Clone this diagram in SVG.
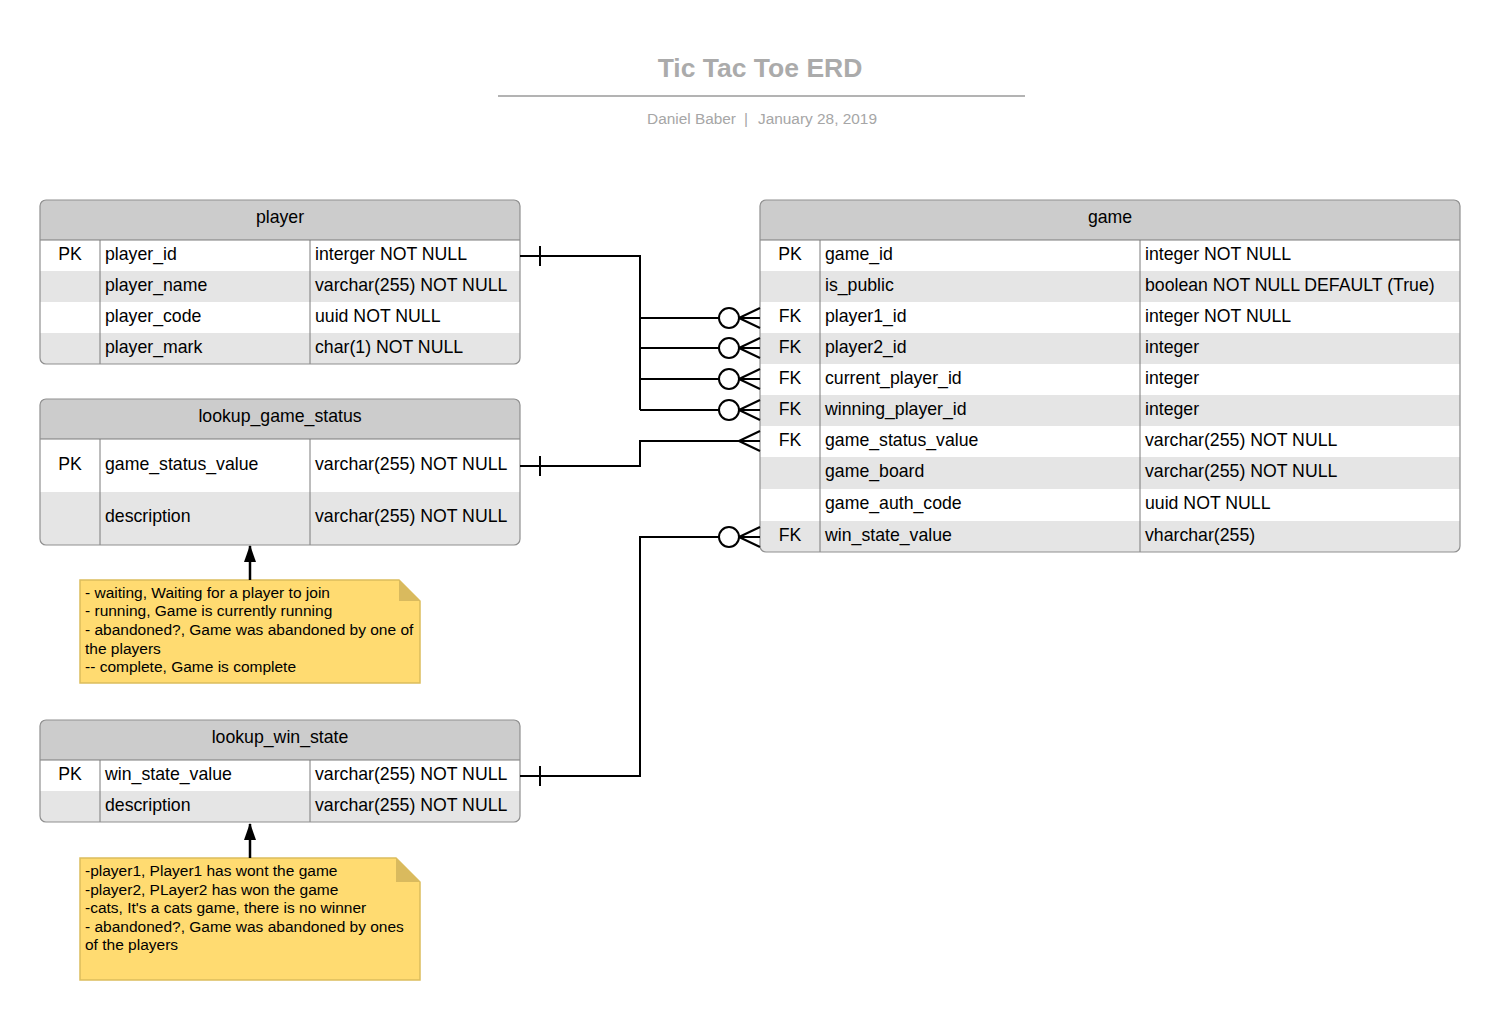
<svg xmlns="http://www.w3.org/2000/svg" width="1500" height="1021" viewBox="0 0 1500 1021">
<style>
text{font-family:"Liberation Sans",Arial,sans-serif;fill:#000}
.title{font-size:26.5px;font-weight:bold;fill:#ababab}
.sub{font-size:15.4px;fill:#a6a6a6}
.hdr{fill:#cccccc}
.alt{fill:#e5e5e5}
.wht{fill:#ffffff}
.frame{fill:none;stroke:#8f8f8f;stroke-width:1.2}
.div{stroke:#7a7a7a;stroke-width:1;fill:none}
.t{font-size:17.7px}
.th{font-size:17.7px;text-anchor:middle}
.pk{font-size:17.7px;text-anchor:middle}
.note{fill:#ffdb71;stroke:#dcbd5c;stroke-width:1.5}
.fold{fill:#d9ba5e;stroke:none}
.nt{font-size:15.5px}
.conn{fill:none;stroke:#000;stroke-width:2}
.ring{fill:#fff;stroke:#000;stroke-width:2}
.arr{stroke:#000;stroke-width:2.5;fill:none}
</style>
<defs>
<marker id="arrowhead" viewBox="0 0 17 12" refX="16" refY="6" markerWidth="17" markerHeight="12" orient="auto" markerUnits="userSpaceOnUse">
<path d="M0,0 L17,6 L0,12 Z" fill="#000"/>
</marker>
<clipPath id="cpPlayer"><rect x="40" y="200" width="480" height="164" rx="6"/></clipPath>
<clipPath id="cpStatus"><rect x="40" y="399" width="480" height="146" rx="6"/></clipPath>
<clipPath id="cpWin"><rect x="40" y="720" width="480" height="102" rx="6"/></clipPath>
<clipPath id="cpGame"><rect x="760" y="200" width="700" height="352" rx="6"/></clipPath>
</defs>
<rect width="1500" height="1021" fill="#ffffff"/>

<g id="title">
<text class="title" x="760" y="77" text-anchor="middle">Tic Tac Toe ERD</text>
<line x1="498" y1="96" x2="1025" y2="96" stroke="#b3b3b3" stroke-width="2"/>
<text class="sub" x="736" y="124" text-anchor="end">Daniel Baber</text>
<text class="sub" x="746" y="124" text-anchor="middle">|</text>
<text class="sub" x="758" y="124">January 28, 2019</text>
</g>

<g id="player">
<g clip-path="url(#cpPlayer)">
<rect class="hdr" x="40" y="200" width="480" height="40"/>
<rect class="wht" x="40" y="240" width="480" height="31"/>
<rect class="alt" x="40" y="271" width="480" height="31"/>
<rect class="wht" x="40" y="302" width="480" height="31"/>
<rect class="alt" x="40" y="333" width="480" height="31"/>
</g>
<line class="div" x1="40" y1="240" x2="520" y2="240"/>
<line class="div" x1="100" y1="240" x2="100" y2="364"/>
<line class="div" x1="310" y1="240" x2="310" y2="364"/>
<rect class="frame" x="40" y="200" width="480" height="164" rx="6"/>
<text class="th" x="280" y="223">player</text>
<text class="pk" x="70" y="259.5">PK</text>
<text class="t" x="105" y="259.5">player_id</text>
<text class="t" x="315" y="259.5">interger NOT NULL</text>
<text class="t" x="105" y="290.5">player_name</text>
<text class="t" x="315" y="290.5">varchar(255) NOT NULL</text>
<text class="t" x="105" y="321.5">player_code</text>
<text class="t" x="315" y="321.5">uuid NOT NULL</text>
<text class="t" x="105" y="352.5">player_mark</text>
<text class="t" x="315" y="352.5">char(1) NOT NULL</text>
</g>

<g id="lookup_game_status">
<g clip-path="url(#cpStatus)">
<rect class="hdr" x="40" y="399" width="480" height="40"/>
<rect class="wht" x="40" y="439" width="480" height="53"/>
<rect class="alt" x="40" y="492" width="480" height="53"/>
</g>
<line class="div" x1="40" y1="439" x2="520" y2="439"/>
<line class="div" x1="100" y1="439" x2="100" y2="545"/>
<line class="div" x1="310" y1="439" x2="310" y2="545"/>
<rect class="frame" x="40" y="399" width="480" height="146" rx="6"/>
<text class="th" x="280" y="422">lookup_game_status</text>
<text class="pk" x="70" y="469.5">PK</text>
<text class="t" x="105" y="469.5">game_status_value</text>
<text class="t" x="315" y="469.5">varchar(255) NOT NULL</text>
<text class="t" x="105" y="521.5">description</text>
<text class="t" x="315" y="521.5">varchar(255) NOT NULL</text>
</g>

<g id="lookup_win_state">
<g clip-path="url(#cpWin)">
<rect class="hdr" x="40" y="720" width="480" height="40"/>
<rect class="wht" x="40" y="760" width="480" height="31"/>
<rect class="alt" x="40" y="791" width="480" height="31"/>
</g>
<line class="div" x1="40" y1="760" x2="520" y2="760"/>
<line class="div" x1="100" y1="760" x2="100" y2="822"/>
<line class="div" x1="310" y1="760" x2="310" y2="822"/>
<rect class="frame" x="40" y="720" width="480" height="102" rx="6"/>
<text class="th" x="280" y="743">lookup_win_state</text>
<text class="pk" x="70" y="779.5">PK</text>
<text class="t" x="105" y="779.5">win_state_value</text>
<text class="t" x="315" y="779.5">varchar(255) NOT NULL</text>
<text class="t" x="105" y="810.5">description</text>
<text class="t" x="315" y="810.5">varchar(255) NOT NULL</text>
</g>

<g id="game">
<g clip-path="url(#cpGame)">
<rect class="hdr" x="760" y="200" width="700" height="40"/>
<rect class="wht" x="760" y="240" width="700" height="31"/>
<rect class="alt" x="760" y="271" width="700" height="31"/>
<rect class="wht" x="760" y="302" width="700" height="31"/>
<rect class="alt" x="760" y="333" width="700" height="31"/>
<rect class="wht" x="760" y="364" width="700" height="31"/>
<rect class="alt" x="760" y="395" width="700" height="31"/>
<rect class="wht" x="760" y="426" width="700" height="31"/>
<rect class="alt" x="760" y="457" width="700" height="32"/>
<rect class="wht" x="760" y="489" width="700" height="32"/>
<rect class="alt" x="760" y="521" width="700" height="31"/>
</g>
<line class="div" x1="760" y1="240" x2="1460" y2="240"/>
<line class="div" x1="820" y1="240" x2="820" y2="552"/>
<line class="div" x1="1140" y1="240" x2="1140" y2="552"/>
<rect class="frame" x="760" y="200" width="700" height="352" rx="6"/>
<text class="th" x="1110" y="223">game</text>
<text class="pk" x="790" y="259.5">PK</text>
<text class="t" x="825" y="259.5">game_id</text>
<text class="t" x="1145" y="259.5">integer NOT NULL</text>
<text class="t" x="825" y="290.5">is_public</text>
<text class="t" x="1145" y="290.5">boolean NOT NULL DEFAULT (True)</text>
<text class="pk" x="790" y="321.5">FK</text>
<text class="t" x="825" y="321.5">player1_id</text>
<text class="t" x="1145" y="321.5">integer NOT NULL</text>
<text class="pk" x="790" y="352.5">FK</text>
<text class="t" x="825" y="352.5">player2_id</text>
<text class="t" x="1145" y="352.5">integer</text>
<text class="pk" x="790" y="383.5">FK</text>
<text class="t" x="825" y="383.5">current_player_id</text>
<text class="t" x="1145" y="383.5">integer</text>
<text class="pk" x="790" y="414.5">FK</text>
<text class="t" x="825" y="414.5">winning_player_id</text>
<text class="t" x="1145" y="414.5">integer</text>
<text class="pk" x="790" y="445.5">FK</text>
<text class="t" x="825" y="445.5">game_status_value</text>
<text class="t" x="1145" y="445.5">varchar(255) NOT NULL</text>
<text class="t" x="825" y="477">game_board</text>
<text class="t" x="1145" y="477">varchar(255) NOT NULL</text>
<text class="t" x="825" y="508.5">game_auth_code</text>
<text class="t" x="1145" y="508.5">uuid NOT NULL</text>
<text class="pk" x="790" y="540.5">FK</text>
<text class="t" x="825" y="540.5">win_state_value</text>
<text class="t" x="1145" y="540.5">vharchar(255)</text>
</g>

<g id="note_game_status">
<path class="note" d="M80,580 H399 L420,601 V683 H80 Z"/>
<path class="fold" d="M399,580 L420,601 H399 Z"/>
<text class="nt" x="85" y="597.5">- waiting, Waiting for a player to join</text>
<text class="nt" x="85" y="616.2">- running, Game is currently running</text>
<text class="nt" x="85" y="634.9">- abandoned?, Game was abandoned by one of</text>
<text class="nt" x="85" y="653.6">the players</text>
<text class="nt" x="85" y="672.3">-- complete, Game is complete</text>
</g>

<g id="note_win_state">
<path class="note" d="M80,858 H396 L420,882 V980 H80 Z"/>
<path class="fold" d="M396,858 L420,882 H396 Z"/>
<text class="nt" x="85" y="876">-player1, Player1 has wont the game</text>
<text class="nt" x="85" y="894.6">-player2, PLayer2 has won the game</text>
<text class="nt" x="85" y="913.2">-cats, It's a cats game, there is no winner</text>
<text class="nt" x="85" y="931.8">- abandoned?, Game was abandoned by ones</text>
<text class="nt" x="85" y="950.4">of the players</text>
</g>

<g id="connectors">
<line class="arr" x1="250" y1="580" x2="250" y2="546" marker-end="url(#arrowhead)"/>
<line class="arr" x1="250" y1="858" x2="250" y2="824" marker-end="url(#arrowhead)"/>

<path class="conn" d="M520,256 H640 V410"/>
<path class="conn" d="M540,246 V266"/>
<path class="conn" d="M640,318 H719 M640,348 H719 M640,379 H719 M640,410 H719"/>
<path class="conn" d="M739,318 L760,308 M739,318 H760 M739,318 L760,328"/>
<path class="conn" d="M739,348 L760,338 M739,348 H760 M739,348 L760,358"/>
<path class="conn" d="M739,379 L760,369 M739,379 H760 M739,379 L760,389"/>
<path class="conn" d="M739,410 L760,400 M739,410 H760 M739,410 L760,420"/>
<circle class="ring" cx="729" cy="318" r="10"/>
<circle class="ring" cx="729" cy="348" r="10"/>
<circle class="ring" cx="729" cy="379" r="10"/>
<circle class="ring" cx="729" cy="410" r="10"/>

<path class="conn" d="M520,466 H640 V441 H760"/>
<path class="conn" d="M540,456 V476"/>
<path class="conn" d="M739,441 L760,431 M739,441 L760,451"/>

<path class="conn" d="M520,776 H640 V537 H719"/>
<path class="conn" d="M540,766 V786"/>
<path class="conn" d="M739,537 L760,527 M739,537 H760 M739,537 L760,547"/>
<circle class="ring" cx="729" cy="537" r="10"/>
</g>
</svg>
